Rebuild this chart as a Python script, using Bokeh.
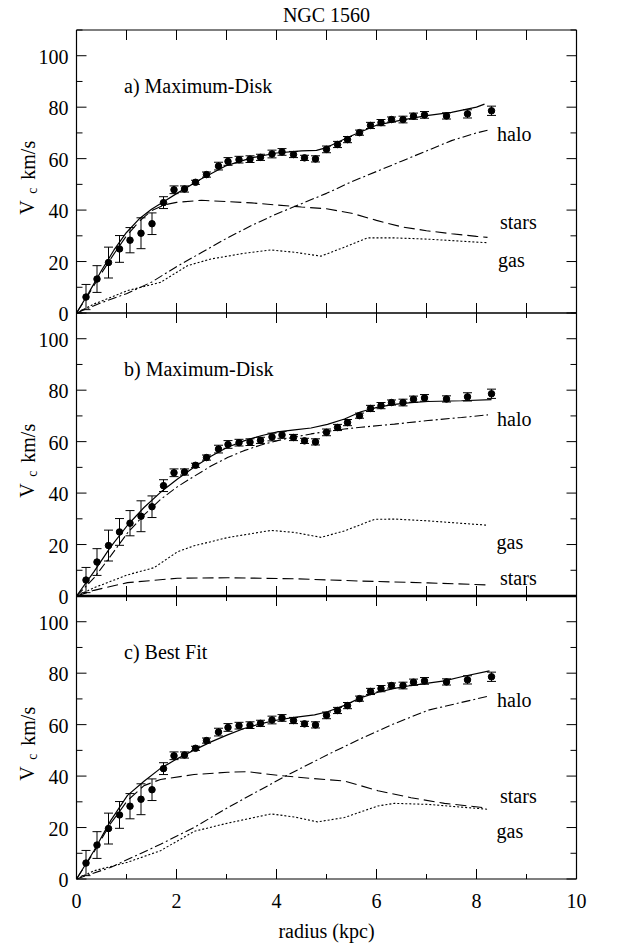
import math
from bokeh.plotting import figure
from bokeh.models import Range1d, Label, ColumnDataSource, Whisker, TeeHead
from bokeh.embed import file_html
from bokeh.resources import INLINE

FONT = "Liberation Serif"
FS = "20px"

# ---------------- data ----------------
radius = [0.19, 0.41, 0.64, 0.86, 1.07, 1.29, 1.51, 1.74, 1.95, 2.16, 2.38, 2.60, 2.84, 3.03,
          3.25, 3.47, 3.68, 3.91, 4.11, 4.34, 4.56, 4.78, 5.00, 5.22, 5.42, 5.66, 5.88, 6.09,
          6.30, 6.53, 6.74, 6.96, 7.40, 7.82, 8.30]
vobs = [6.2, 13.2, 19.6, 24.9, 28.3, 31.0, 34.7, 42.9, 47.9, 48.2, 50.8, 53.8, 57.1, 58.9,
        59.6, 59.8, 60.5, 61.8, 62.6, 61.6, 60.3, 59.9, 63.6, 65.5, 67.4, 70.1, 72.9, 74.0,
        75.2, 75.2, 76.5, 77.0, 76.6, 77.4, 78.6]
verr = [4.9, 5.2, 6.0, 5.2, 4.9, 6.0, 4.2, 2.3, 1.5, 1.2, 0.8, 1.0, 1.5, 1.5, 1.3, 1.3, 1.2,
        1.5, 1.3, 1.2, 1.0, 1.2, 1.3, 1.2, 1.2, 1.0, 1.2, 1.2, 1.0, 1.3, 1.2, 1.3, 1.2, 1.6, 1.8]

# panel a) Maximum-Disk
a_total_r = [0, 0.25, 0.5, 0.75, 1.0, 1.25, 1.5, 1.75, 2.0, 2.5, 3.0, 3.5, 4.0, 4.5, 4.8, 5.0,
             5.5, 6.0, 6.5, 7.0, 7.5, 8.0, 8.16]
a_total_v = [0, 8.0, 16.5, 24.5, 31.3, 36.5, 40.3, 43.3, 46.4, 52.2, 57.3, 60.3, 62.2, 63.0,
             63.2, 64.3, 68.9, 73.0, 75.0, 76.7, 78.0, 80.0, 81.2]
a_halo_r = [0, 0.5, 1.0, 1.5, 2.0, 2.5, 3.0, 3.5, 4.0, 4.5, 5.0, 5.5, 6.0, 6.5, 7.0, 7.5, 8.0, 8.22]
a_halo_v = [0, 4.0, 7.5, 12.0, 18.0, 23.5, 29.0, 34.0, 38.5, 42.5, 46.5, 51.0, 55.0, 59.0,
            63.0, 67.0, 70.0, 71.0]
a_stars_r = [0, 0.25, 0.5, 0.75, 1.0, 1.25, 1.5, 1.75, 2.0, 2.5, 3.0, 3.5, 4.0, 4.5, 5.0, 5.5,
             6.0, 6.5, 7.0, 7.5, 8.0, 8.22]
a_stars_v = [0, 7.5, 15.5, 23.0, 30.0, 35.5, 39.8, 42.0, 43.0, 43.8, 43.3, 42.8, 42.0, 41.2,
             40.5, 38.8, 36.0, 33.5, 32.0, 30.8, 29.8, 29.4]
a_gas_r = [0, 0.35, 1.02, 1.68, 2.22, 2.69, 3.35, 3.89, 4.36, 4.89, 5.36, 5.82, 6.36, 7.03, 7.70, 8.23]
a_gas_v = [0, 3.5, 8.7, 11.9, 18.4, 21.0, 23.2, 24.5, 23.6, 22.1, 25.6, 29.2, 29.2, 28.7, 27.9, 27.3]

# panel b) Maximum-Disk
b_total_r = [0, 0.35, 0.68, 1.02, 1.35, 1.68, 2.02, 2.35, 2.69, 3.02, 3.35, 3.69, 4.02, 4.36,
             4.69, 5.02, 5.36, 5.69, 6.03, 6.36, 6.69, 7.03, 7.70, 8.30]
b_total_v = [0, 9.5, 19.0, 27.5, 34.4, 40.3, 45.5, 50.0, 54.3, 57.8, 60.3, 62.3, 63.8, 64.6,
             65.3, 66.7, 68.8, 71.6, 73.4, 74.5, 75.2, 75.6, 75.9, 76.3]
b_halo_r = [0, 0.35, 0.68, 1.02, 1.35, 1.68, 2.02, 2.35, 2.69, 3.02, 3.35, 3.69, 4.02, 4.36,
            4.69, 5.02, 5.36, 5.69, 6.36, 7.03, 7.70, 8.23]
b_halo_v = [0, 7.0, 15.5, 24.5, 31.5, 37.5, 42.5, 46.5, 50.5, 53.8, 56.5, 58.7, 60.4, 61.8,
            63.0, 64.0, 64.9, 65.6, 66.8, 68.2, 69.4, 70.4]
b_gas_r = [0, 0.35, 1.02, 1.55, 2.02, 2.35, 3.02, 3.89, 4.36, 4.89, 5.36, 5.96, 6.36, 7.03, 8.23]
b_gas_v = [0, 3.2, 8.2, 11.0, 17.2, 19.5, 22.7, 25.5, 24.7, 22.8, 25.3, 29.8, 29.9, 29.2, 27.5]
b_stars_r = [0, 0.35, 1.02, 2.02, 3.02, 4.36, 5.69, 7.03, 8.23]
b_stars_v = [0, 2.2, 5.2, 6.9, 7.1, 6.7, 5.8, 5.1, 4.3]

# panel c) Best Fit
c_total_r = [0, 0.35, 0.68, 1.02, 1.35, 1.68, 2.02, 2.35, 2.69, 3.02, 3.35, 3.69, 4.02, 4.36,
             4.76, 5.02, 5.36, 5.69, 6.03, 6.36, 6.69, 7.03, 7.36, 7.70, 8.26]
c_total_v = [0, 11.0, 22.6, 32.5, 38.0, 43.0, 46.8, 50.1, 53.3, 56.0, 58.5, 60.4, 61.8, 62.8,
             63.8, 65.0, 67.5, 70.5, 72.6, 74.1, 75.2, 76.1, 77.0, 78.6, 80.9]
c_halo_r = [0, 0.68, 1.68, 2.35, 3.02, 3.69, 4.22, 5.02, 5.69, 6.36, 7.03, 8.22]
c_halo_v = [0, 4.5, 13.5, 20.0, 27.7, 34.8, 40.4, 48.3, 54.6, 60.4, 65.6, 71.0]
c_stars_r = [0, 0.35, 0.68, 1.02, 1.35, 1.68, 2.35, 3.02, 3.42, 4.02, 4.69, 5.36, 6.03, 6.69,
             7.36, 8.16]
c_stars_v = [0, 10.5, 21.5, 30.5, 36.3, 38.7, 40.6, 41.5, 41.7, 40.3, 39.1, 38.1, 34.3, 31.6,
             29.4, 27.7]
c_gas_r = [0, 0.35, 1.02, 1.68, 2.35, 3.02, 3.89, 4.36, 4.82, 5.36, 6.03, 6.36, 7.03, 8.23]
c_gas_v = [0, 3.2, 6.5, 11.0, 18.5, 21.7, 25.3, 24.1, 22.2, 23.9, 28.4, 29.4, 29.0, 27.1]

panel_titles = ["a) Maximum-Disk", "b) Maximum-Disk", "c) Best Fit"]
title_text = "NGC 1560"
x_label = "radius (kpc)"
y_label = ("V", "c", "km/s")
y_tick_values = [0, 20, 40, 60, 80, 100]
y_tick_labels = ["0", "20", "40", "60", "80", "100"]
y_minor_values = [10, 30, 50, 70, 90, 110]
x_tick_values = [0, 2, 4, 6, 8, 10]
x_tick_labels = ["0", "2", "4", "6", "8", "10"]
x_minor_values = [1, 3, 5, 7, 9]
comp_names = ["halo", "stars", "gas"]

# ---------------- layout (one frame, three stacked 0..110 panels) ----------------
W, H = 617, 943
PX_X = 50.0            # px per kpc
X0_PX = 76.0           # px of r = 0
PX_Y = 283.0 / 110.0   # px per km/s
Y0_PX = 878.5          # px of v = 0 in the lowest panel
STEP = 110.0           # panel height in km/s units
X_MAX = 10.0

x_lo = -X0_PX / PX_X
x_hi = (W - X0_PX) / PX_X
y_lo = -(H - Y0_PX) / PX_Y
y_hi = Y0_PX / PX_Y

p = figure(width=W, height=H, output_backend="svg", toolbar_location=None,
           x_range=Range1d(x_lo, x_hi), y_range=Range1d(y_lo, y_hi),
           x_axis_location=None, y_axis_location=None,
           min_border=0, min_border_left=0, min_border_right=0,
           min_border_top=0, min_border_bottom=0)
p.grid.visible = False
p.outline_line_color = None
p.background_fill_color = "white"
p.border_fill_color = "white"

offsets = {"a": 2 * STEP, "b": STEP, "c": 0.0}
p.extra_y_ranges = {k: Range1d(y_lo - off, y_hi - off) for k, off in offsets.items()}

DY = 2.3     # baseline correction (km/s units) for Label text placement
DX = 0.12    # same for rotated labels (kpc)
YT_X = -0.16           # right edge of the y tick labels (kpc)
YT_DY = DY - 7.0 / PX_Y  # put digit centre on the tick
XT_Y = -10.7 + DY      # baseline of the x tick labels

# tick lengths in px, turned into the frame's units
MAJ, MIN_Y, MIN_X = 10.0, 6.0, 5.0
hx_maj, hx_min = MAJ / PX_X, MIN_Y / PX_X      # horizontal ticks on left/right edges
vy_maj, vy_min = MAJ / PX_Y, MIN_X / PX_Y      # vertical ticks on top/bottom edges
all_x = sorted(x_tick_values + x_minor_values)
tk = dict(line_color="black", line_width=1)


def hticks(xs, ys, dx, k):
    p.segment(x0=xs, y0=ys, x1=[x + dx for x in xs], y1=ys, y_range_name=k, **tk)


def vticks(xs, y, dy, k):
    ys = [y] * len(xs)
    p.segment(x0=xs, y0=ys, x1=xs, y1=[y + dy] * len(xs), y_range_name=k, **tk)


for k in offsets:
    p.segment(x0=[0, X_MAX, 0, 0], y0=[0, 0, STEP, 0],
              x1=[0, X_MAX, X_MAX, X_MAX], y1=[STEP, STEP, STEP, 0],
              line_color="black", line_width=1.2, y_range_name=k)
    if k == "b":
        p.segment(x0=[0], y0=[0], x1=[X_MAX], y1=[0], line_color="black", line_width=2.6,
                  y_range_name=k)
    # left / right edges (pointing inward)
    hticks([0] * len(y_tick_values), y_tick_values, hx_maj, k)
    hticks([0] * len(y_minor_values), y_minor_values, hx_min, k)
    hticks([X_MAX] * len(y_tick_values), y_tick_values, -hx_maj, k)
    hticks([X_MAX] * len(y_minor_values), y_minor_values, -hx_min, k)
    # top edge (pointing down)
    if k == "a":
        vticks(all_x, STEP, -vy_maj, k)
    else:
        vticks(x_tick_values, STEP, -vy_maj, k)
        vticks(x_minor_values, STEP, -vy_min, k)
    # bottom edge (pointing up)
    if k == "c":
        vticks(x_tick_values, 0, vy_maj, k)
        vticks(x_minor_values, 0, vy_min, k)
    else:
        vticks(all_x, 0, vy_maj, k)
    # y tick labels
    for t, s in zip(y_tick_values, y_tick_labels):
        p.add_layout(Label(x=YT_X, y=t + YT_DY, text=s, y_range_name=k, text_font=FONT,
                           text_font_size=FS, text_color="black", text_align="right",
                           text_baseline="alphabetic"))

for t, s in zip(x_tick_values, x_tick_labels):
    p.add_layout(Label(x=t, y=XT_Y, text=s, y_range_name="c", text_font=FONT,
                       text_font_size=FS, text_color="black", text_align="center",
                       text_baseline="alphabetic"))

# ---- panels ----
panels = [
    dict(key="a", total=(a_total_r, a_total_v), halo=(a_halo_r, a_halo_v),
         stars=(a_stars_r, a_stars_v), gas=(a_gas_r, a_gas_v),
         lab={"halo": (8.41, 67.4), "stars": (8.47, 33.1), "gas": (8.43, 18.4)}),
    dict(key="b", total=(b_total_r, b_total_v), halo=(b_halo_r, b_halo_v),
         stars=(b_stars_r, b_stars_v), gas=(b_gas_r, b_gas_v),
         lab={"halo": (8.41, 66.5), "stars": (8.47, 4.8), "gas": (8.40, 18.8)}),
    dict(key="c", total=(c_total_r, c_total_v), halo=(c_halo_r, c_halo_v),
         stars=(c_stars_r, c_stars_v), gas=(c_gas_r, c_gas_v),
         lab={"halo": (8.41, 67.1), "stars": (8.47, 29.9), "gas": (8.40, 16.4)}),
]

src = ColumnDataSource(dict(r=radius, v=vobs,
                            lo=[a - b for a, b in zip(vobs, verr)],
                            hi=[a + b for a, b in zip(vobs, verr)]))

for i, pdata in enumerate(panels):
    k = pdata["key"]
    r, v = pdata["total"]
    p.line(r, v, line_color="black", line_width=1.2, y_range_name=k)
    r, v = pdata["halo"]
    p.line(r, v, line_color="black", line_width=1.1, line_dash="9 3 2 3", y_range_name=k)
    r, v = pdata["stars"]
    p.line(r, v, line_color="black", line_width=1.1, line_dash="11 5", y_range_name=k)
    r, v = pdata["gas"]
    p.line(r, v, line_color="black", line_width=1.1, line_dash="2 2", y_range_name=k)

    p.add_layout(Whisker(source=src, base="r", upper="hi", lower="lo", y_range_name=k,
                         line_color="black", line_width=1,
                         upper_head=TeeHead(size=9, line_color="black", line_width=1),
                         lower_head=TeeHead(size=9, line_color="black", line_width=1)))
    p.scatter("r", "v", source=src, size=6.5, color="black", y_range_name=k)

    p.add_layout(Label(x=0.95, y=86 + DY, text=panel_titles[i], y_range_name=k,
                       text_font=FONT, text_font_size=FS, text_color="black",
                       text_baseline="alphabetic"))
    for name in comp_names:
        lx, ly = pdata["lab"][name]
        p.add_layout(Label(x=lx, y=ly + DY, text=name, y_range_name=k, text_font=FONT,
                           text_font_size=FS, text_color="black", text_baseline="alphabetic"))

    # rotated y label  V_c km/s
    p.add_layout(Label(x=-0.88 - DX, y=38.2, text=y_label[0], angle=math.pi / 2,
                       y_range_name=k, text_font=FONT, text_font_size=FS,
                       text_color="black", text_baseline="alphabetic"))
    p.add_layout(Label(x=-0.76 - DX, y=46.4, text=y_label[1], angle=math.pi / 2,
                       y_range_name=k, text_font=FONT, text_font_size="14px",
                       text_color="black", text_baseline="alphabetic"))
    p.add_layout(Label(x=-0.86 - DX, y=51.8, text=y_label[2], angle=math.pi / 2,
                       y_range_name=k, text_font=FONT, text_font_size=FS,
                       text_color="black", text_baseline="alphabetic"))

p.add_layout(Label(x=5, y=115.8, text=title_text, y_range_name="a", text_font=FONT,
                   text_font_size=FS, text_color="black", text_align="center",
                   text_baseline="alphabetic"))
p.add_layout(Label(x=5, y=-20.3, text=x_label, y_range_name="c", text_font=FONT,
                   text_font_size=FS, text_color="black", text_align="center",
                   text_baseline="alphabetic"))

open("out.html", "w").write(file_html(p, INLINE))
